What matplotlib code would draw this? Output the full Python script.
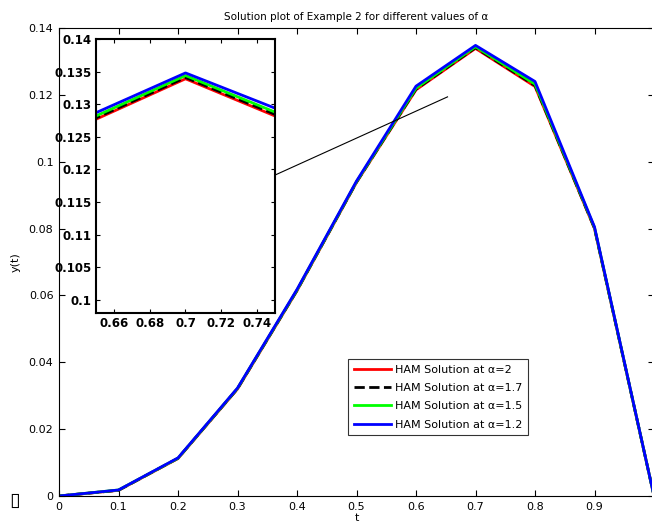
import matplotlib
matplotlib.use("Agg")
import matplotlib.pyplot as plt
import numpy as np

# data
t = [0.0, 0.1, 0.2, 0.3, 0.4, 0.5, 0.6, 0.7, 0.8, 0.9, 1.0]
y_a20 = [0.0, 0.0017, 0.0112, 0.0320, 0.0614, 0.0938, 0.1215, 0.1339, 0.1225, 0.0800, 0.0]
y_a17 = [0.0, 0.0017, 0.0113, 0.0321, 0.0615, 0.0939, 0.1217, 0.1341, 0.1228, 0.0801, 0.0]
y_a15 = [0.0, 0.0018, 0.0113, 0.0322, 0.0616, 0.0940, 0.1220, 0.1344, 0.1232, 0.0803, 0.0]
y_a12 = [0.0, 0.0018, 0.0114, 0.0323, 0.0618, 0.0942, 0.1226, 0.1348, 0.1240, 0.0805, 0.0]

labels = ["HAM Solution at \u03b1=2", "HAM Solution at \u03b1=1.7",
          "HAM Solution at \u03b1=1.5", "HAM Solution at \u03b1=1.2"]
series = [y_a20, y_a17, y_a15, y_a12]
colors = ["#ff0000", "#000000", "#00ff00", "#0000ff"]
styles = ["-", "--", "-", "-"]

# connector line from inset to zoomed region (data coords of main axes)
conn_x = [0.363, 0.653]
conn_y = [0.0960, 0.1194]

W, H = 652, 532
fig = plt.figure(figsize=(W / 100, H / 100), dpi=100)
plt.rcParams['font.family'] = ['DejaVu Sans']

ax = fig.add_axes([59 / W, 1 - 496 / H, 595 / W, 468 / H])
for y, c, ls, lab in zip(series, colors, styles, labels):
    ax.plot(t, y, color=c, linestyle=ls, linewidth=2, label=lab)
ax.plot(conn_x, conn_y, color="black", linewidth=0.8)
ax.set_xlim(0, 1)
ax.set_ylim(0, 0.14)
ax.set_xticks(np.arange(0, 0.95, 0.1))
ax.set_xticklabels(["0", "0.1", "0.2", "0.3", "0.4", "0.5", "0.6", "0.7", "0.8", "0.9"])
ax.set_yticks(np.arange(0, 0.141, 0.02))
ax.set_yticklabels(["0", "0.02", "0.04", "0.06", "0.08", "0.1", "0.12", "0.14"])
ax.tick_params(direction="in", top=True, right=True, labelsize=8, length=4, pad=4)
ax.set_xlabel("t", fontsize=8, labelpad=1)
ax.set_ylabel("y(t)", fontsize=8, labelpad=6)
ax.set_title("Solution plot of Example 2 for different values of \u03b1", fontsize=7.5, pad=6)
leg = ax.legend(loc="upper left", bbox_to_anchor=((348 - 59) / 595, (496 - 359) / 468),
                fontsize=8, frameon=True, fancybox=False, edgecolor="black",
                handlelength=3.4, handletextpad=0.3, borderpad=0.5, labelspacing=0.75,
                borderaxespad=0)
leg.get_frame().set_linewidth(0.8)

# inset
ins = fig.add_axes([96 / W, 1 - 313 / H, 179 / W, 274 / H])
for y, c, ls in zip(series, colors, styles):
    ins.plot(t, y, color=c, linestyle=ls, linewidth=2)
ins.set_xlim(0.65, 0.75)
ins.set_ylim(0.098, 0.14)
ins.set_xticks([0.66, 0.68, 0.7, 0.72, 0.74])
ins.set_xticklabels(["0.66", "0.68", "0.7", "0.72", "0.74"])
ins.set_yticks(np.arange(0.1, 0.1401, 0.005))
ins.set_yticklabels(["0.1", "0.105", "0.11", "0.115", "0.12", "0.125", "0.13", "0.135", "0.14"])
ins.tick_params(direction="in", top=True, right=True, labelsize=8.5, length=3, pad=3)
for lab in ins.get_xticklabels() + ins.get_yticklabels():
    lab.set_fontweight("bold")
for sp in ins.spines.values():
    sp.set_linewidth(1.5)

fig.text(15 / W, 1 - 500 / H, "\u25af", fontsize=14, ha="center", va="center")

fig.savefig("out.png", dpi=100)
